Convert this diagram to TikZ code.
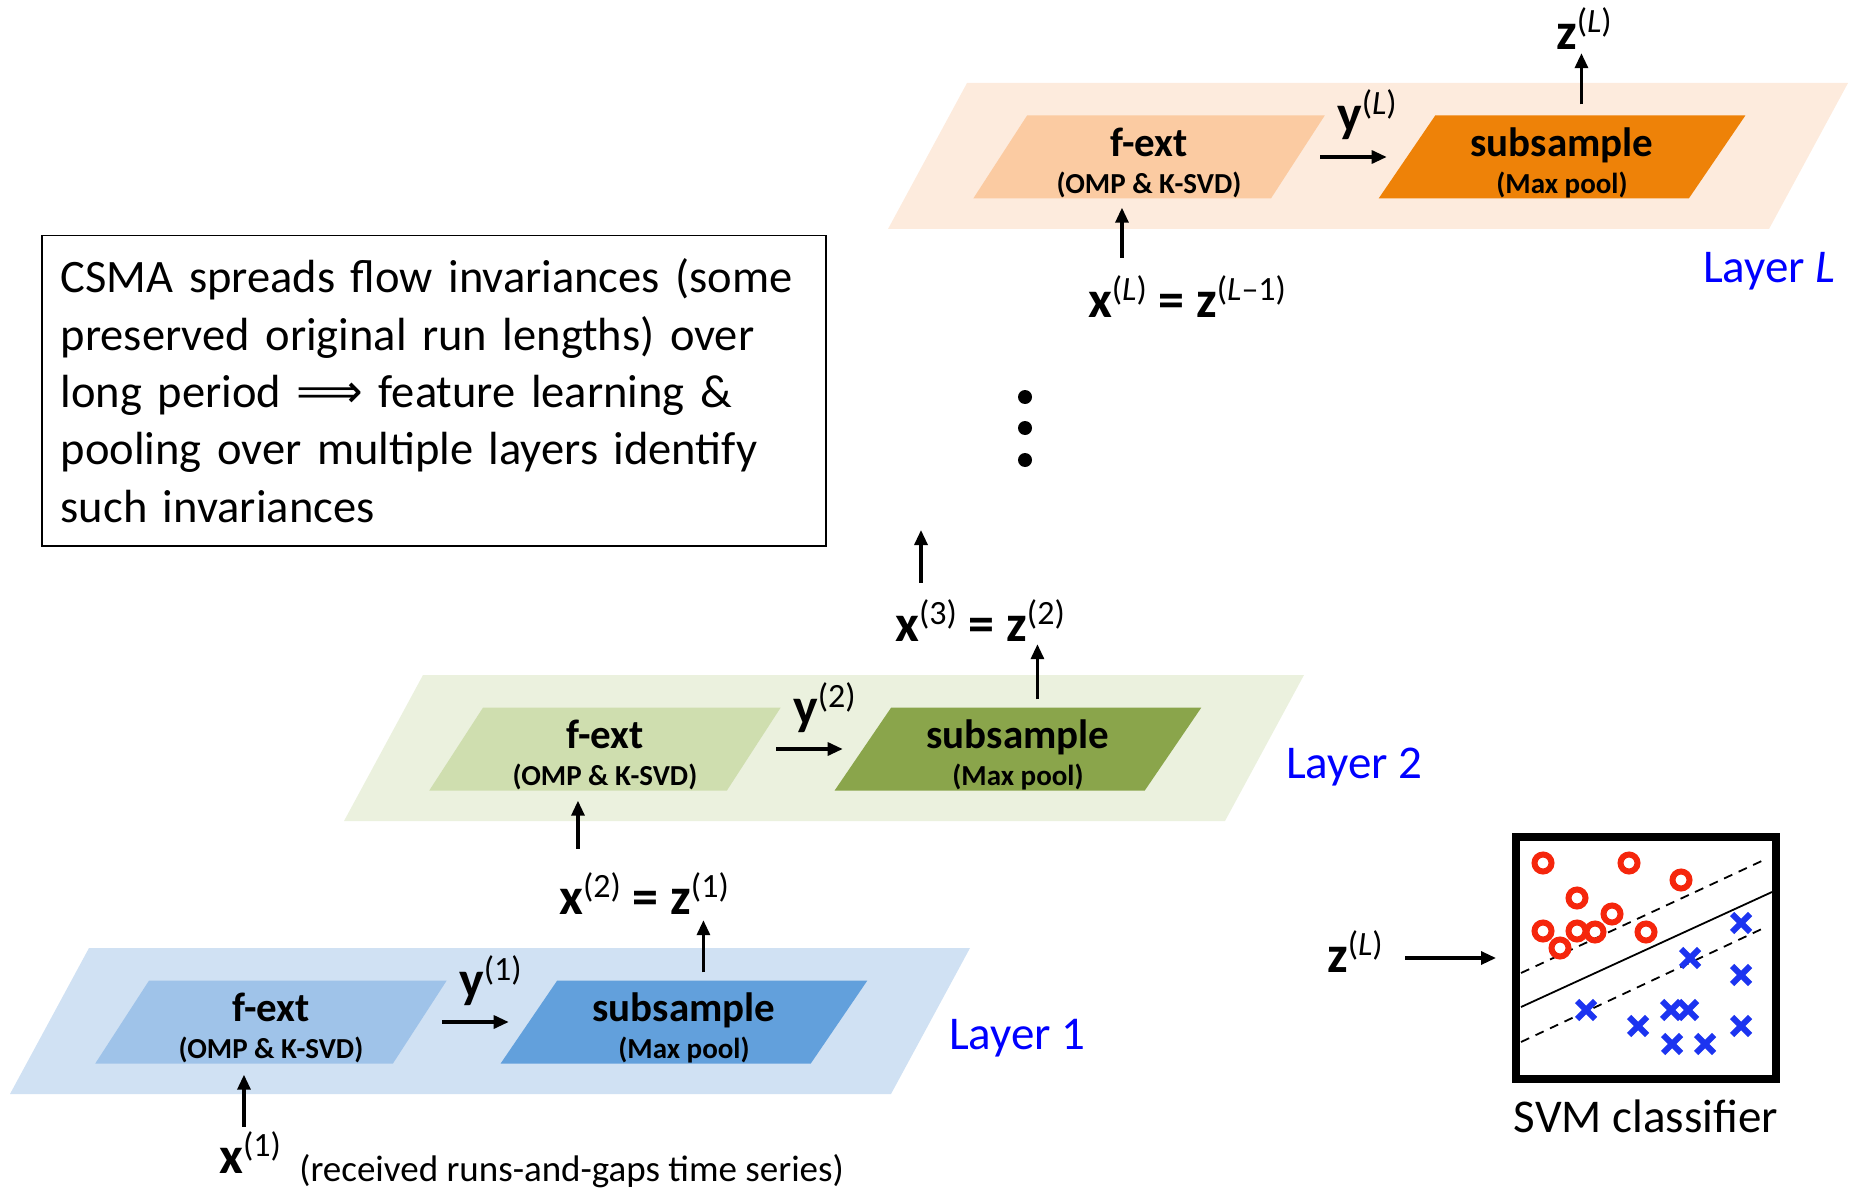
\documentclass[tikz,border=0pt]{standalone}
\usepackage{fontspec}
\setmainfont{Carlito}
\newfontfamily\arrowfont{DejaVu Sans}
\usetikzlibrary{arrows.meta, shapes.geometric, positioning}

\definecolor{lay1bg}{HTML}{D0E1F3}
\definecolor{fext1c}{HTML}{9FC3E9}
\definecolor{sub1c}{HTML}{62A0DC}
\definecolor{lay2bg}{HTML}{EBF1DE}
\definecolor{fext2c}{HTML}{CFDEAF}
\definecolor{sub2c}{HTML}{8AA54B}
\definecolor{layLbg}{HTML}{FDEBDD}
\definecolor{fextLc}{HTML}{FBCBA2}
\definecolor{subLc}{HTML}{EE8208}
\definecolor{svmred}{HTML}{F5260C}
\definecolor{svmblue}{HTML}{1C34F0}

% superscript layer index
\newcommand{\lidx}[1]{\raisebox{17pt}{\fontsize{34}{34}\selectfont\mdseries(#1)}}
% two-line block caption
\newcommand{\blocktext}[2]{{\fontsize{41}{37}\selectfont\rule{0pt}{41pt}#1}\\#2}

\tikzset{
  arr/.style={line width=3.2pt, -{Triangle[length=15pt,width=13pt]}},
  block/.style={trapezium, trapezium left angle=63.7, trapezium right angle=116.3,
    trapezium stretches=true, minimum height=83pt, inner sep=0pt, align=center,
    font=\bfseries\fontsize{29}{37}\selectfont},
  fextbox/.style={block, minimum width=352pt},
  subbox/.style={block, minimum width=368pt},
  vlabel/.style={inner sep=0pt, font=\bfseries\fontsize{52}{52}\selectfont},
  laylabel/.style={inner sep=0pt, text=blue, font=\fontsize{47}{47}\selectfont},
}

\begin{document}
\begin{tikzpicture}[x=1pt, y=-1pt]
  \useasboundingbox (0,0) rectangle (1854,1190);

  % Layer 1
  \begin{scope}[shift={(89,948)}]
    \fill[lay1bg] (0,0) -- (881,0) -- (802,146) -- (-79,146) -- cycle;
    \node[fextbox, fill=fext1c] (fext1) at (182,74) {\blocktext{f-ext}{(OMP \& K-SVD)}};
    \node[subbox, fill=sub1c] (sub1) at (595,74) {\blocktext{subsample}{(Max pool)}};
  \end{scope}
  \node[laylabel, anchor=base west] (lab1) at (949,1049) {Layer 1};
  \node[vlabel, anchor=base west] (x1) at (219,1173) {x\lidx{1}};
  \node[inner sep=0pt, anchor=base west, font=\fontsize{37}{37}\selectfont] (recv)
    at ([xshift=18pt, yshift=-8pt]x1.base east) {(received runs-and-gaps time series)};
  \node[vlabel, anchor=base west] (y1) at (459,997) {y\lidx{1}};
  \node[vlabel, anchor=base] (x2z1) at (644,914) {x\lidx{2} = z\lidx{1}};
  \draw[arr, shorten <=4pt, shorten >=11pt] (fext1.bottom side |- x1.north) -- (fext1.bottom side);
  \draw[arr, shorten <=22pt, shorten >=20pt] (fext1.right side) -- (sub1.left side);
  \draw[arr, shorten <=8pt, shorten >=6pt] ([xshift=-9pt]sub1.top side) -- ([xshift=-9pt]sub1.top side |- x2z1.south);

  % Layer 2
  \begin{scope}[shift={(423,675)}]
    \fill[lay2bg] (0,0) -- (881,0) -- (802,146) -- (-79,146) -- cycle;
    \node[fextbox, fill=fext2c] (fext2) at (182,74) {\blocktext{f-ext}{(OMP \& K-SVD)}};
    \node[subbox, fill=sub2c] (sub2) at (595,74) {\blocktext{subsample}{(Max pool)}};
  \end{scope}
  \node[laylabel, anchor=base west] (lab2) at (1286,778) {Layer 2};
  \node[vlabel, anchor=base west] (y2) at (793,724) {y\lidx{2}};
  \node[vlabel, anchor=base] (x3z2) at (980,641) {x\lidx{3} = z\lidx{2}};
  \coordinate (top3) at (921,530);
  \draw[arr, shorten <=23pt, shorten >=10pt] (fext2.bottom side |- x2z1.north) -- (fext2.bottom side);
  \draw[arr, shorten <=22pt, shorten >=20pt] (fext2.right side) -- (sub2.left side);
  \draw[arr, shorten <=8pt, shorten >=3pt] ([xshift=-9pt]sub2.top side) -- ([xshift=-9pt]sub2.top side |- x3z2.south);
  \draw[arr, shorten <=16pt] (x3z2.north -| top3) -- (top3);

  % more layers
  \foreach \dy in {397,428,460}
    \fill (1025,\dy) circle (7pt);

  % Layer L
  \begin{scope}[shift={(967,83)}]
    \fill[layLbg] (0,0) -- (881,0) -- (802,146) -- (-79,146) -- cycle;
    \node[fextbox, fill=fextLc] (fextL) at (182,74) {\blocktext{f-ext}{(OMP \& K-SVD)}};
    \node[subbox, fill=subLc] (subL) at (595,74) {\blocktext{subsample}{(Max pool)}};
  \end{scope}
  \node[laylabel, anchor=base west] (labL) at (1703,282) {Layer \textit{L}};
  \node[vlabel, anchor=base west] (yL) at (1337,132) {y\lidx{\textit{L}}};
  \node[vlabel, anchor=base] (xLzL) at (1187,317) {x\lidx{\textit{L}} = z\lidx{\textit{L}--1}};
  \node[vlabel, anchor=base west] (zLtop) at (1556,50) {z\lidx{\textit{L}}};
  \draw[arr, shorten <=17pt, shorten >=9pt] (fextL.bottom side |- xLzL.north) -- (fextL.bottom side);
  \draw[arr, shorten <=22pt, shorten >=20pt] (fextL.right side) -- (subL.left side);
  \draw[arr, shorten <=11pt, shorten >=3pt] ([xshift=-9pt]subL.top side) -- ([xshift=-9pt]subL.top side |- zLtop.south);

  % Note box
  \node[draw, line width=1.5pt, anchor=north west, inner xsep=19pt, inner ysep=22pt,
    text width=746pt, minimum height=310pt, align=left, font=\fontsize{46.5}{57.4}\selectfont] (note) at (41,235)
    {CSMA spreads flow invariances (some\\ preserved original run lengths) over\\
     long period {\arrowfont ⟹} feature learning \&\\ pooling over multiple layers identify\\
     such invariances};

  % SVM classifier
  \node[draw, line width=8pt, minimum width=260pt, minimum height=242pt, inner sep=0pt] (svm) at (1646,958) {};
  \node[below=17pt of svm, inner sep=0pt, font=\fontsize{47}{47}\selectfont] (svmlab) {SVM classifier};
  \node[vlabel, anchor=base west] (zsvm) at (1327,972) {z\lidx{\textit{L}}};
  \draw[arr, shorten <=22pt, shorten >=16pt] (zsvm.east |- svm.west) -- (svm.west);
  \draw[line width=1.8pt] (1521,1007) -- (1772,892);
  \draw[line width=1.8pt, dash pattern=on 9pt off 7pt] (1521,973) -- (1766,859);
  \draw[line width=1.8pt, dash pattern=on 9pt off 7pt] (1521,1042) -- (1766,927);
  \foreach \px/\py in {1543/863, 1629/863, 1681/880, 1577/898, 1612/914,
                       1543/931, 1577/931, 1595/932, 1560/948, 1646/932}
    \draw[svmred, line width=6pt] (\px,\py) circle (8.5pt);
  \foreach \px/\py in {1741/923, 1690/958, 1741/975, 1586/1010, 1638/1026,
                       1671/1010, 1688/1010, 1741/1026, 1672/1044, 1705/1044}
    \draw[svmblue, line width=6pt] (\px-9,\py-9) -- (\px+9,\py+9) (\px-9,\py+9) -- (\px+9,\py-9);
\end{tikzpicture}
\end{document}
